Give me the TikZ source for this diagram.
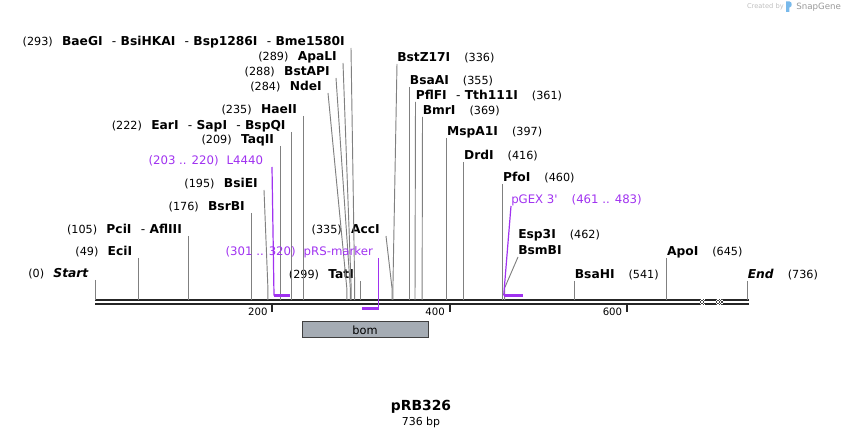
\documentclass[tikz,border=0pt]{standalone}
\usepackage{fontspec}
\setmainfont{DejaVu Sans}
\usepackage{xcolor}
\usepackage{tikz}
\usetikzlibrary{positioning}

\definecolor{primer}{RGB}{160,50,240}
\definecolor{sitegray}{RGB}{128,128,128}
\definecolor{bomfill}{RGB}{165,172,180}
\definecolor{logoblue}{RGB}{120,185,235}

\newcommand{\bpnum}[1]{{\fontsize{8.4}{10}\selectfont\mdseries #1}}
\newcommand{\gapL}{\hspace{7pt}}
\newcommand{\gapR}{\hspace{10.5pt}}
\newcommand{\gapF}{\hspace{6pt}}
\newcommand{\sepdash}{\hspace{7pt}{\mdseries -}~}

\begin{document}
\begin{tikzpicture}[x=0.75pt, y=-0.75pt,
    site/.style={draw=sitegray, line width=0.7pt},
    enz/.style={inner ysep=0pt, text height=7pt, text depth=2pt, font=\fontsize{9.2}{11.25}\selectfont\bfseries},
    enzL/.style={enz, anchor=south east, inner xsep=4.5pt},
    enzR/.style={enz, anchor=south west, inner xsep=0pt},
    featlbl/.style={inner ysep=0pt, text height=7pt, text depth=2pt, text=primer, font=\fontsize{8.8}{11}\selectfont},
    featline/.style={draw=primer, line width=0.9pt},
    featbar/.style={draw=primer, line width=1.6pt},
    strand/.style={draw=black!85, line width=1.6pt},
    scaletick/.style={draw=black!85, line width=1.5pt}]
\useasboundingbox (0,0) rectangle (844,438);

\coordinate (c0) at (95,300);
\coordinate (c49) at (138.4,300);
\coordinate (c105) at (188.1,300);
\coordinate (c176) at (251,300);
\coordinate (c195) at (267.9,300);
\coordinate (c209) at (280.3,300);
\coordinate (c222) at (291.8,300);
\coordinate (c235) at (303.3,300);
\coordinate (c284) at (346.8,300);
\coordinate (c288) at (350.3,300);
\coordinate (c289) at (351.2,300);
\coordinate (c293) at (354.7,300);
\coordinate (c299) at (360.1,300);
\coordinate (c335) at (392,300);
\coordinate (c336) at (392.9,300);
\coordinate (c355) at (409.7,300);
\coordinate (c361) at (415,300);
\coordinate (c369) at (422.1,300);
\coordinate (c397) at (446.9,300);
\coordinate (c416) at (463.8,300);
\coordinate (c460) at (502.8,300);
\coordinate (c462) at (504.6,300);
\coordinate (c541) at (574.6,300);
\coordinate (c645) at (666.8,300);
\coordinate (c736) at (747.5,300);

\draw [strand] (95,300) -- (749,300);
\draw [strand] (95,304.3) -- (749,304.3);
\foreach \bx/\nc in {700/4,716/5}{
    \fill [white] (\bx,298.8) rectangle ++(\nc*1.3,6.5);
    \foreach \i in {1,...,\nc}
        \foreach \j in {1,...,5}{
            \pgfmathtruncatemacro{\chk}{mod(\i+\j,2)}
            \ifnum\chk=0 \fill [black!75] (\bx+\i*1.3-1.3,298.8+\j*1.3-1.3) rectangle ++(1.3,1.3); \fi
        }
}

\foreach \k/\xt in {200/272.3,400/449.6,600/626.9}{
    \draw [scaletick] (\xt,305) -- (\xt,312.5);
    \node [anchor=east, inner sep=0pt, font=\fontsize{7.6}{9}\selectfont] (tk\k) at (\xt-4.5,312) {\k};
}

\node [enzL] (start) at (95,280) {\bpnum{(0)}\gapL\textit{Start}};
\node [enzL] (eci) at (138.4,258) {\bpnum{(49)}\gapL EciI};
\node [enzL] (pci) at (188.1,236) {\bpnum{(105)}\gapL PciI\sepdash AflIII};
\node [enzL] (bsrb) at (251,213) {\bpnum{(176)}\gapL BsrBI};
\node [enzL] (bsie) at (264,190) {\bpnum{(195)}\gapL BsiEI};
\node [enzL] (taq) at (280.3,146) {\bpnum{(209)}\gapL TaqII};
\node [enzL] (ear) at (291.8,132) {\bpnum{(222)}\gapL EarI\sepdash SapI\sepdash BspQI};
\node [enzL] (hae) at (303.3,116) {\bpnum{(235)}\gapL HaeII};
\node [enzL] (nde) at (328,93) {\bpnum{(284)}\gapL NdeI};
\node [enzL] (bstap) at (336,78) {\bpnum{(288)}\gapL BstAPI};
\node [enzL] (apal) at (343,63) {\bpnum{(289)}\gapL ApaLI};
\node [enzL] (baeg) at (351,48) {\bpnum{(293)}\gapL BaeGI\sepdash BsiHKAI\sepdash Bsp1286I\sepdash Bme1580I};
\node [enzL] (tat) at (360.1,281) {\bpnum{(299)}\gapL TatI};
\node [enzL] (acc) at (386,236) {\bpnum{(335)}\gapL AccI};

\node [enzR] (bstz) at (397,64) {BstZ17I\gapR\bpnum{(336)}};
\node [enzR] (bsaa) at (409.7,87) {BsaAI\gapR\bpnum{(355)}};
\node [enzR] (pflf) at (415.5,102) {PflFI\sepdash Tth111I\gapR\bpnum{(361)}};
\node [enzR] (bmr) at (422.5,117) {BmrI\gapR\bpnum{(369)}};
\node [enzR] (msp) at (446.9,138) {MspA1I\gapR\bpnum{(397)}};
\node [enzR] (drd) at (463.8,162) {DrdI\gapR\bpnum{(416)}};
\node [enzR] (pfo) at (502.8,184) {PfoI\gapR\bpnum{(460)}};
\node [enzR] (bsmb) at (518,257) {BsmBI};
\node [enzR, above right=2.25pt and 0pt of bsmb.north west] (esp) {Esp3I\gapR\bpnum{(462)}};
\node [enzR] (bsah) at (574.6,281) {BsaHI\gapR\bpnum{(541)}};
\node [enzR] (apo) at (666.8,258) {ApoI\gapR\bpnum{(645)}};
\node [enzR] (endsite) at (747.5,281) {\textit{End}\gapR\bpnum{(736)}};

\draw [site] (start.south east) -- (c0);
\draw [site] (eci.south east) -- (c49);
\draw [site] (pci.south east) -- (c105);
\draw [site] (bsrb.south east) -- (c176);
\draw [site] (bsie.south east) -- (c195 |- 0,288) -- (c195);
\draw [site] (taq.south east) -- (c209);
\draw [site] (ear.south east) -- (c222);
\draw [site] (hae.south east) -- (c235);
\draw [site] (nde.south east) -- (c284 |- 0,288) -- (c284);
\draw [site] (bstap.south east) -- (c288 |- 0,288) -- (c288);
\draw [site] (apal.south east) -- (c289 |- 0,288) -- (c289);
\draw [site] (baeg.south east) -- (c293 |- 0,288) -- (c293);
\draw [site] (tat.south east) -- (c299);
\draw [site] (acc.south east) -- (c335 |- 0,288) -- (c335);
\draw [site] (bstz.south west) -- (c336 |- 0,288) -- (c336);
\draw [site] (bsaa.south west) -- (c355);
\draw [site] (pflf.south west) -- (c361);
\draw [site] (bmr.south west) -- (c369);
\draw [site] (msp.south west) -- (c397);
\draw [site] (drd.south west) -- (c416);
\draw [site] (pfo.south west) -- (c460);
\draw [site] (bsmb.south west) -- (c462 |- 0,288) -- (c462);
\draw [site] (bsah.south west) -- (c541);
\draw [site] (apo.south west) -- (c645);
\draw [site] (endsite.south west) -- (c736);

\node [featlbl, anchor=south east, inner xsep=6.5pt] (l4440) at (272,167) {(203 .. 220)\gapF L4440};
\node [featlbl, anchor=south east, inner xsep=4pt] (prs) at (378.5,258) {(301 .. 320)\gapF pRS-marker};
\node [featlbl, anchor=south west, inner xsep=0pt] (pgex) at (511,206) {pGEX 3\textquotesingle\gapR(461 .. 483)};
\coordinate (f203) at (274,295.5);
\coordinate (f220) at (290,295.5);
\coordinate (f301) at (361.8,308.5);
\coordinate (f320) at (378.5,308.5);
\coordinate (f461) at (503.7,295.5);
\coordinate (f483) at (523.2,295.5);
\draw [featline] (l4440.south east) -- (f203);
\draw [featbar] (f203) -- (f220);
\draw [featline] (prs.south east) -- (f320);
\draw [featbar] (f301) -- (f320);
\draw [featline] (pgex.south west) -- (f461);
\draw [featbar] (f461) -- (f483);

\node [draw=black!75, fill=bomfill, line width=0.75pt, minimum width=94.5pt, minimum height=12pt, inner sep=0pt, font=\fontsize{8.5}{10}\selectfont] (bom) at (365,330) {bom};

\node [inner sep=0pt, font=\fontsize{10.4}{12}\selectfont\bfseries] (name) at (421,407) {pRB326};
\node [inner sep=0pt, font=\fontsize{8.2}{10}\selectfont, below=2pt of name] (len) {736 bp};

\node [anchor=east, inner sep=0pt, text=black!25, font=\fontsize{5}{6}\selectfont] (credit) at (784,7) {Created by};
\node [anchor=west, inner sep=0pt, text=black!40, font=\fontsize{6.5}{8}\selectfont] (brand) at (796,7) {SnapGene};
\fill [logoblue] (786,1.5) -- (789.5,1.5) .. controls (792.5,1.5) and (792.5,7.5) .. (789.3,7.5) -- (789.3,12) -- (786,12) -- cycle;
\end{tikzpicture}
\end{document}
